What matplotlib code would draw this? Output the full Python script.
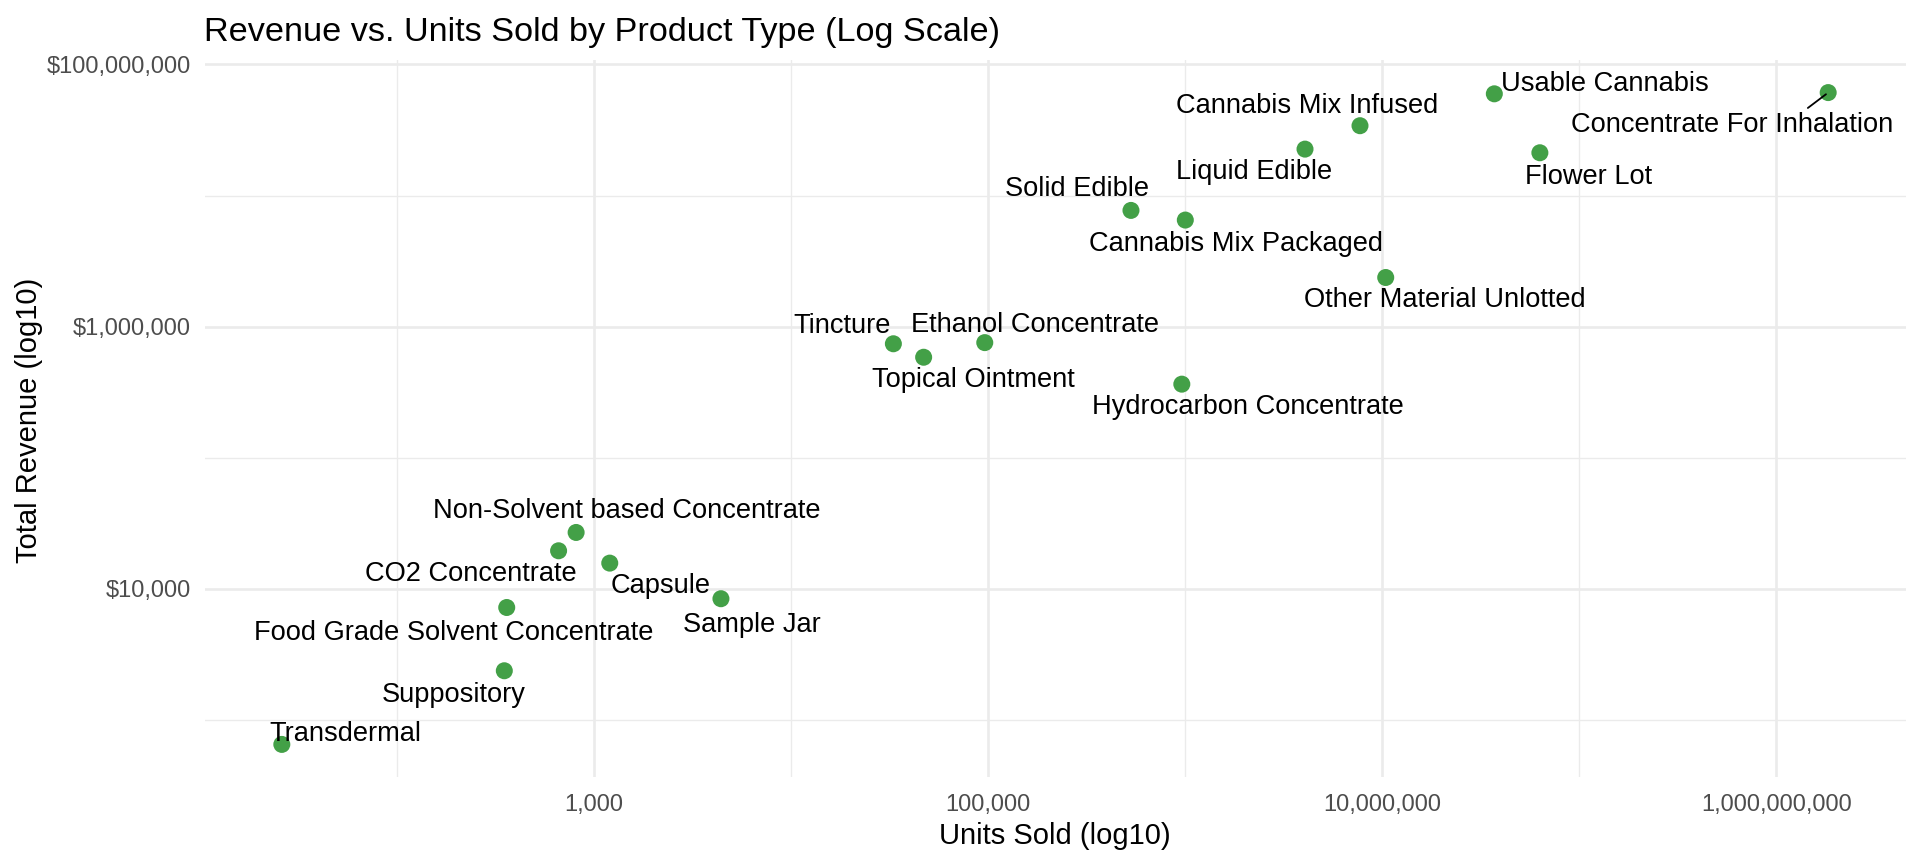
import matplotlib
matplotlib.use("Agg")
import matplotlib.pyplot as plt
from matplotlib.ticker import FixedLocator, FuncFormatter, NullFormatter

# ---- data ----
product_types = [
    "Transdermal", "Suppository", "Food Grade Solvent Concentrate", "CO2 Concentrate",
    "Non-Solvent based Concentrate", "Capsule", "Sample Jar", "Tincture",
    "Topical Ointment", "Ethanol Concentrate", "Hydrocarbon Concentrate", "Solid Edible",
    "Cannabis Mix Packaged", "Liquid Edible", "Cannabis Mix Infused",
    "Other Material Unlotted", "Usable Cannabis", "Flower Lot", "Concentrate For Inhalation",
]
units_sold = [
    26, 350, 360, 660,
    810, 1200, 4400, 33000,
    47000, 96000, 960000, 530000,
    1000000, 4050000, 7700000,
    10400000, 37000000, 63000000, 1830000000,
]
total_revenue = [
    650, 2370, 7200, 19500,
    26900, 15700, 8400, 740000,
    584000, 755000, 364000, 7700000,
    6500000, 22600000, 34100000,
    2370000, 59700000, 21200000, 61000000,
]
x_major = [1e3, 1e5, 1e7, 1e9]
x_minor = [1e2, 1e4, 1e6, 1e8]
y_major = [1e4, 1e6, 1e8]
y_minor = [1e3, 1e5, 1e7]

# label placement (pixel offsets of label centre from its point)
label_offsets = {
    "Transdermal": (64, 10), "Suppository": (-51, -24),
    "Food Grade Solvent Concentrate": (-53, -26), "CO2 Concentrate": (-88, -23),
    "Non-Solvent based Concentrate": (51, 21), "Capsule": (51, -23),
    "Sample Jar": (31, -26), "Tincture": (-51, 18), "Topical Ointment": (50, -23),
    "Ethanol Concentrate": (50, 18), "Hydrocarbon Concentrate": (66, -23),
    "Solid Edible": (-54, 21), "Cannabis Mix Packaged": (51, -24),
    "Liquid Edible": (-51, -23), "Cannabis Mix Infused": (-53, 20),
    "Other Material Unlotted": (59, -23), "Usable Cannabis": (111, 10),
    "Flower Lot": (49, -24), "Concentrate For Inhalation": (-96, -32),
}

plt.rcParams['font.family'] = ['Liberation Sans', 'DejaVu Sans']

W, H = 1920, 864
fig = plt.figure(figsize=(W / 100, H / 100), dpi=100)
L, R, T, B = 204.5, 1905.5, 60, 777
ax = fig.add_axes([L / W, 1 - B / H, (R - L) / W, (B - T) / H])

ax.set_xscale("log")
ax.set_yscale("log")

ax.scatter(units_sold, total_revenue, s=150, color="#43A047", edgecolors="none",
           zorder=3)
ax.margins(0.05)

for name, xv, yv in zip(product_types, units_sold, total_revenue):
    dx, dy = label_offsets[name]
    kw = {}
    if name == "Concentrate For Inhalation":
        kw["arrowprops"] = dict(arrowstyle="-", color="black", lw=1.3,
                                shrinkA=1, shrinkB=2, relpos=(0.72, 1.0))
    ax.annotate(name, (xv, yv), xytext=(dx, dy), textcoords="offset pixels",
                ha="center", va="center", fontsize=19.6, color="black",
                zorder=4, **kw)

ax.xaxis.set_major_locator(FixedLocator(x_major))
ax.xaxis.set_minor_locator(FixedLocator(x_minor))
ax.yaxis.set_major_locator(FixedLocator(y_major))
ax.yaxis.set_minor_locator(FixedLocator(y_minor))
ax.xaxis.set_major_formatter(FuncFormatter(lambda v, p: f"{v:,.0f}"))
ax.yaxis.set_major_formatter(FuncFormatter(lambda v, p: f"${v:,.0f}"))
ax.xaxis.set_minor_formatter(NullFormatter())
ax.yaxis.set_minor_formatter(NullFormatter())

ax.tick_params(which="both", length=0)
ax.tick_params(axis="x", which="major", pad=12, labelsize=17, labelcolor="#4D4D4D")
ax.tick_params(axis="y", which="major", pad=10, labelsize=17, labelcolor="#4D4D4D")

ax.grid(True, which="major", color="#EBEBEB", linewidth=1.9, zorder=0)
ax.grid(True, which="minor", color="#EBEBEB", linewidth=0.95, zorder=0)
ax.set_axisbelow(True)
for s in ax.spines.values():
    s.set_visible(False)

fig.text(L / W, 1 - 41 / H, "Revenue vs. Units Sold by Product Type (Log Scale)",
         ha="left", va="baseline", fontsize=24.7, color="black")
fig.text((L + R) / 2 / W, 1 - 836 / H, "Units Sold (log10)",
         ha="center", va="center", fontsize=21, color="black")
fig.text(29 / W, 1 - 420 / H, "Total Revenue (log10)",
         ha="center", va="center", rotation=90, fontsize=21, color="black")

fig.savefig("out.png", dpi=100, facecolor="white")
